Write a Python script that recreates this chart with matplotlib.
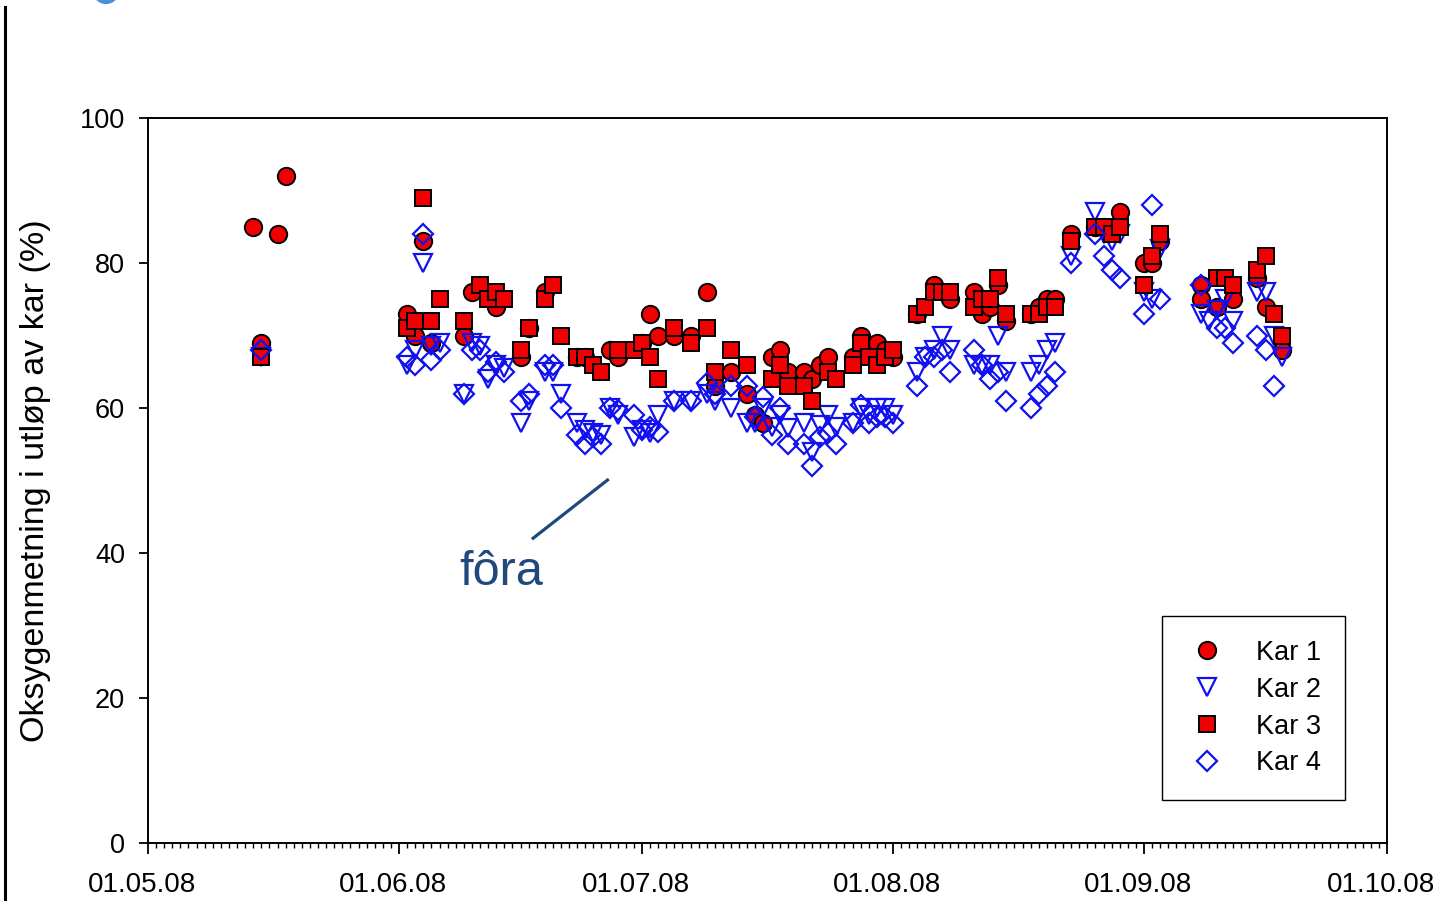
import datetime as dt
import matplotlib
matplotlib.use("Agg")
import matplotlib.pyplot as plt
import matplotlib.dates as mdates
import matplotlib.transforms as mtransforms
from matplotlib.lines import Line2D
from matplotlib.patches import Ellipse

plt.rcParams['font.family'] = ['Liberation Sans', 'DejaVu Sans']

# Oksygenmetning (%) i utløp, dato dd.mm (2008)
kar1_dato = ["14.05", "15.05", "17.05", "18.05",
             "02.06", "03.06", "04.06", "05.06", "09.06", "10.06", "13.06", "16.06", "17.06", "19.06",
             "23.06", "24.06", "27.06", "28.06",
             "01.07", "02.07", "03.07", "05.07", "07.07", "09.07", "10.07", "12.07", "14.07", "15.07",
             "16.07", "17.07", "18.07", "19.07", "21.07", "22.07", "23.07", "24.07", "27.07", "28.07",
             "29.07", "30.07", "31.07", "01.08",
             "04.08", "06.08", "08.08", "11.08", "12.08", "13.08", "14.08", "15.08", "18.08", "19.08",
             "20.08", "21.08", "23.08", "26.08", "27.08", "29.08",
             "01.09", "02.09", "03.09", "08.09", "08.09", "10.09", "12.09", "15.09", "16.09", "18.09"]
kar1 = [85, 69, 84, 92,
        73, 70, 83, 69, 70, 76, 74, 67, 71, 76,
        67, 67, 68, 67,
        69, 73, 70, 70, 70, 76, 63, 65, 62, 59,
        58, 67, 68, 65, 65, 64, 66, 67, 67, 70,
        68, 69, 68, 67,
        73, 77, 75, 76, 73, 74, 77, 72, 73, 74,
        75, 75, 84, 85, 85, 87,
        80, 80, 83, 77, 75, 74, 75, 78, 74, 68]

kar2_dato = ["15.05",
             "02.06", "03.06", "04.06", "05.06", "06.06", "09.06", "10.06", "11.06", "12.06", "13.06",
             "14.06", "16.06", "17.06", "19.06", "20.06", "21.06", "23.06", "24.06", "25.06", "26.06",
             "27.06", "28.06", "30.06",
             "01.07", "02.07", "03.07", "05.07", "07.07", "09.07", "10.07", "12.07", "14.07", "15.07",
             "16.07", "17.07", "18.07", "19.07", "21.07", "22.07", "23.07", "24.07", "25.07", "27.07",
             "28.07", "29.07", "30.07", "31.07", "01.08",
             "04.08", "05.08", "06.08", "07.08", "08.08", "11.08", "12.08", "13.08", "14.08", "15.08",
             "18.08", "19.08", "20.08", "21.08", "23.08", "26.08", "27.08", "28.08", "29.08",
             "01.09", "02.09", "03.09", "08.09", "09.09", "10.09", "11.09", "12.09", "15.09", "16.09",
             "17.09", "18.09"]
kar2 = [67,
        66, 68, 80, 68.5, 69, 62, 69, 68.5, 64, 66,
        65.5, 58, 61, 65, 65, 62, 58, 57, 56.5, 56.3,
        60, 59, 56,
        57, 56.5, 59, 61, 61, 62, 61, 60, 58, 58,
        60, 57.4, 59, 57.3, 58, 54, 57.7, 59, 57.4, 58,
        60, 59, 60, 60, 59,
        65, 67, 68, 70, 68, 66, 66, 66, 70, 65,
        65, 66, 68, 69, 81, 87, 84, 83, 84,
        76, 75, 82, 73, 72, 73.5, 75, 72, 76, 76,
        70, 67]

kar3_dato = ["15.05",
             "02.06", "03.06", "04.06", "05.06", "06.06", "09.06", "11.06", "12.06", "13.06", "14.06",
             "16.06", "17.06", "19.06", "20.06", "21.06", "23.06", "24.06", "25.06", "26.06", "28.06",
             "30.06",
             "01.07", "02.07", "03.07", "05.07", "07.07", "09.07", "10.07", "12.07", "14.07", "17.07",
             "18.07", "19.07", "21.07", "22.07", "24.07", "25.07", "27.07", "28.07", "29.07", "30.07",
             "31.07", "01.08",
             "04.08", "05.08", "06.08", "07.08", "08.08", "11.08", "12.08", "13.08", "14.08", "15.08",
             "18.08", "19.08", "20.08", "21.08", "23.08", "26.08", "27.08", "28.08", "29.08",
             "01.09", "02.09", "03.09", "10.09", "11.09", "12.09", "15.09", "16.09", "17.09", "18.09"]
kar3 = [67,
        71, 72, 89, 72, 75, 72, 77, 75, 76, 75,
        68, 71, 75, 77, 70, 67, 67, 66, 65, 68,
        68,
        69, 67, 64, 71, 69, 71, 65, 68, 66, 64,
        66, 63, 63, 61, 65, 64, 66, 69, 67, 66,
        67, 68,
        73, 74, 76, 76, 76, 74, 75, 75, 78, 73,
        73, 73, 74, 74, 83, 85, 85, 84, 85,
        77, 81, 84, 78, 78, 77, 79, 81, 73, 70]

kar4_dato = ["15.05",
             "02.06", "03.06", "04.06", "05.06", "06.06", "09.06", "10.06", "11.06", "12.06", "13.06",
             "14.06", "16.06", "17.06", "19.06", "20.06", "21.06", "23.06", "24.06", "25.06", "26.06",
             "27.06", "28.06", "30.06",
             "01.07", "02.07", "03.07", "05.07", "07.07", "09.07", "10.07", "12.07", "14.07", "15.07",
             "16.07", "17.07", "18.07", "19.07", "21.07", "22.07", "23.07", "24.07", "25.07", "27.07",
             "28.07", "29.07", "30.07", "31.07", "01.08",
             "04.08", "05.08", "06.08", "07.08", "08.08", "11.08", "12.08", "13.08", "14.08", "15.08",
             "18.08", "19.08", "20.08", "21.08", "23.08", "26.08", "27.08", "28.08", "29.08",
             "01.09", "02.09", "03.09", "08.09", "10.09", "11.09", "12.09", "15.09", "16.09", "17.09"]
kar4 = [68,
        67, 66, 84, 66.6, 68, 62, 68, 68, 65, 66.4,
        65, 61, 62, 66, 66, 60, 56.3, 55, 56, 55,
        60, 59.7, 59,
        57, 57.4, 56.7, 61, 61, 63.4, 62, 63, 63, 58.8,
        61.5, 56.3, 60, 55, 55, 52, 56, 56.5, 55, 58,
        60.4, 58, 58.8, 58.8, 58,
        63, 67, 67, 68, 65, 68, 66, 64, 65, 61,
        60, 62, 63, 65, 80, 84, 81, 79, 78,
        73, 88, 75, 77, 71, 71, 69, 70, 68, 63]

serier = ["Kar 1", "Kar 2", "Kar 3", "Kar 4"]


def til_dato(liste):
    return [dt.datetime.strptime(s + ".2008", "%d.%m.%Y") for s in liste]


fig = plt.figure(figsize=(14.34, 9.01), dpi=100)
ax = fig.add_axes([148 / 1434, 58 / 901, 1239 / 1434, 725 / 901])

# markører
ax.plot(til_dato(kar1_dato), kar1, 'o', ms=12.5, mfc='#F00000', mec='black', mew=1.4,
        ls='none', label=serier[0])
ax.plot(til_dato(kar2_dato), kar2, 'v', ms=13.5, mfc='none', mec='#1010F0', mew=1.6,
        ls='none', label=serier[1])
ax.plot(til_dato(kar3_dato), kar3, 's', ms=11.5, mfc='#F00000', mec='black', mew=1.4,
        ls='none', label=serier[2])
ax.plot(til_dato(kar4_dato), kar4, 'D', ms=10.5, mfc='none', mec='#1010F0', mew=1.6,
        ls='none', label=serier[3])

# akser
start = dt.datetime(2008, 5, 1)
ax.set_xlim(start, dt.datetime(2008, 10, 1))
ax.set_ylim(0, 100)
ax.set_yticks(range(0, 101, 20))
ax.xaxis.set_major_locator(mdates.MonthLocator())
ax.xaxis.set_major_formatter(mdates.DateFormatter('%d.%m.%y'))
ax.xaxis.set_minor_locator(mdates.DayLocator())
ax.tick_params(axis='both', which='major', direction='out', width=1.3)
ax.tick_params(axis='x', which='major', length=8, pad=13, labelsize=20)
ax.tick_params(axis='y', which='major', length=6.5, pad=10, labelsize=19.5)
ax.tick_params(axis='x', which='minor', direction='out', length=3.5, width=1)
for s in ax.spines.values():
    s.set_linewidth(1.4)

# datoene står litt til venstre for strekene
skift = mtransforms.ScaledTranslation(-6 / 100, 0, fig.dpi_scale_trans)
for lbl in ax.get_xticklabels():
    lbl.set_transform(lbl.get_transform() + skift)

ax.set_ylabel('Oksygenmetning i utløp av kar (%)', fontsize=24.5)
ax.yaxis.set_label_coords(-0.078, 0.5)

# fôra-markering
farge = '#1F497D'
d = lambda x: mdates.date2num(start + dt.timedelta(days=x))
ax.plot([d(47.4), d(56.9)], [41.9, 50.2], color=farge, lw=2.3, solid_capstyle='butt')
ax.text(d(43.6), 35.6, 'fôra', ha='center', va='baseline', fontsize=35, color=farge)

leg = ax.legend(loc='lower right', bbox_to_anchor=(0.966, 0.059), fontsize=19.5,
                frameon=True, fancybox=False, edgecolor='black', framealpha=1,
                borderpad=0.88, labelspacing=0.40, handletextpad=1.0, borderaxespad=0,
                handlelength=1.6, markerscale=1.0)
leg.get_frame().set_linewidth(1.0)

# kantlinje og rest av overskrift
fig.add_artist(Line2D([4.5 / 1434, 4.5 / 1434], [0, 1 - 7 / 901], color='black', lw=2.2))
fig.add_artist(Ellipse((106 / 1434, 1 + 11 / 901), 24 / 1434, 26 / 901, fill=False,
                       ec='#4A8FDB', lw=3.0, transform=fig.transFigure))

fig.savefig('out.png', dpi=100)
